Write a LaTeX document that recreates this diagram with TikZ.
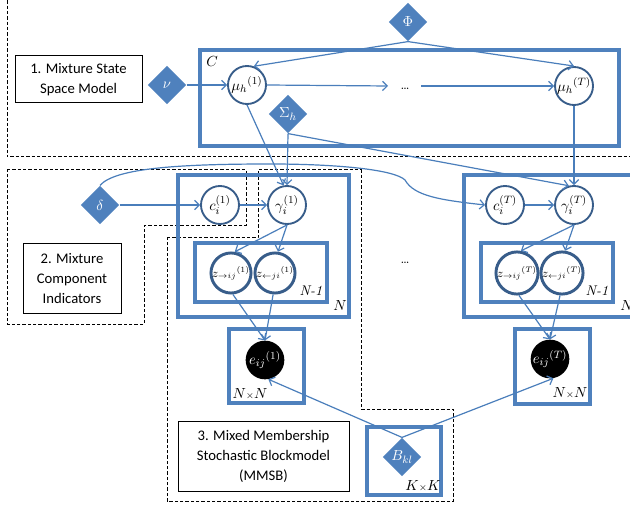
\documentclass[tikz,border=0pt]{standalone}
\usepackage{fontspec}
\newfontfamily\boxfont{Carlito}
\usetikzlibrary{shapes.geometric,arrows.meta}
\definecolor{plateblue}{HTML}{4F81BD}
\definecolor{arrblue}{HTML}{4A7EBB}
\definecolor{circblue}{HTML}{385D8A}
\begin{document}
\begin{tikzpicture}[x=0.75pt,y=-0.75pt,
  var/.style={circle,draw=circblue,line width=1.4pt,fill=white,minimum size=28.5pt,inner sep=0pt,font=\fontsize{11}{12}\selectfont},
  zvar/.style={var,line width=2.2pt,minimum size=26.5pt,font=\fontsize{9}{10}\selectfont},
  obs/.style={circle,fill=black,minimum size=29pt,inner sep=0pt,text=white,font=\fontsize{11}{12}\selectfont},
  param/.style={diamond,fill=plateblue,minimum size=29pt,aspect=1,inner sep=0pt,text=white,font=\fontsize{11}{12}\selectfont},
  plate/.style={draw=plateblue,line width=2.3pt},
  region/.style={draw=black,line width=0.75pt,dash pattern=on 2.5pt off 1.5pt},
  infobox/.style={draw=black,line width=0.75pt,fill=white,align=center,inner sep=0pt,font=\boxfont\fontsize{11}{15}\selectfont},
  arr/.style={draw=arrblue,line width=0.9pt,-{Straight Barb[length=3.5pt,width=7pt]}},
  lab/.style={inner sep=0pt,font=\fontsize{10.5}{11}\selectfont}
]
\useasboundingbox (0,0) rectangle (630,505);
% dashed regions
\draw[region] (7,-5) -- (7,157) -- (635,157);
\draw[region] (7,170) -- (246,170) -- (246,226) -- (144,226) -- (144,324) -- (7,324) -- cycle;
\draw[region] (167,238) -- (258,238) -- (258,170) -- (361,170) -- (361,409) -- (453,409) -- (453,501) -- (167,501) -- cycle;
% plates
\draw[plate] (200,50) rectangle (619,146);
\node[lab] (lC) at (212,62) {$C$};
\draw[plate] (178,175) rectangle (349,317);
\node[lab] (lN1) at (340,306) {$N$};
\draw[plate] (195,243) rectangle (327,302);
\node[lab] (lNm1) at (311,291) {\textit{N-1}};
\draw[plate] (464,175) rectangle (645,317);
\node[lab] (lNT) at (627,306) {$N$};
\draw[plate] (481,243) rectangle (613,302);
\node[lab] (lNmT) at (597,291) {\textit{N-1}};
\draw[plate] (229,329) rectangle (304,403);
\node[lab] (lNN1) at (250,394) {$N{\scriptstyle\times}N$};
\draw[plate] (515,329) rectangle (590,404);
\node[lab] (lNNT) at (570,393) {$N{\scriptstyle\times}N$};
\draw[plate] (367,427) rectangle (441,495);
\node[lab] (lKK) at (423,486) {$K{\scriptstyle\times}K$};
% text boxes
\node[infobox,minimum width=95.25pt,minimum height=35.25pt] (box1) at (78.5,79.5) {1. Mixture State\\Space Model};
\node[infobox,minimum width=73.5pt,minimum height=51.75pt] (box2) at (72,278.5) {2. Mixture\\Component\\Indicators};
\node[infobox,minimum width=128.25pt,minimum height=52.5pt] (box3) at (263.5,456) {3. Mixed Membership\\Stochastic Blockmodel\\(MMSB)};
% parameters
\node[param] (nu) at (167,85) {$\nu$};
\node[param] (Phi) at (408,22) {$\Phi$};
\node[param] (Sig) at (288,114) {$\Sigma_h$};
\node[param] (delta) at (100,205) {$\delta$};
\node[param] (B) at (402,457) {$B_{kl}$};
% variables
\node[var] (mu1) at (247,85) {${\mu_h}^{(1)}$};
\node[var] (muT) at (574,86) {${\mu_h}^{(T)}$};
\node[inner sep=0pt] (dots1) at (405,89) {\ldots};
\coordinate (d1a) at (388,86);
\coordinate (d1b) at (421,86);
\node[var] (c1) at (220,205) {$c_i^{(1)}$};
\node[var] (g1) at (287,205) {$\gamma_i^{(1)}$};
\node[var] (cT) at (505,205) {$c_i^{(T)}$};
\node[var] (gT) at (574,205) {$\gamma_i^{(T)}$};
\node[zvar] (z1a) at (231,273) {${z_{\rightarrow ij}}^{(1)}$};
\node[zvar] (z1b) at (275,273) {${z_{\leftarrow ji}}^{(1)}$};
\node[zvar] (zTa) at (517,273) {${z_{\rightarrow ij}}^{(T)}$};
\node[zvar] (zTb) at (562,273) {${z_{\leftarrow ji}}^{(T)}$};
\node[inner sep=0pt] (dots2) at (405,263) {\ldots};
\node[obs] (e1) at (265,360) {${e_{ij}}^{(1)}$};
\node[obs] (eT) at (550,359) {${e_{ij}}^{(T)}$};
% connectors
\draw[arr] (nu.east) -- (mu1.west);
\draw[arr] (mu1.east) -- (d1a);
\draw[arr] (d1b) -- (muT.west);
\draw[arr] (Phi.south) -- (mu1.70);
\draw[arr] (Phi.south) -- (muT.north);
\draw[arr] (mu1.south) -- (g1.100);
\draw[arr] (Sig.south) -- (g1.north);
\draw[arr] (Sig.south) -- (gT.105);
\draw[arr] (muT.south) -- (gT.north);
\draw[arr] (delta.east) -- (c1.west);
\draw[arr] (c1.east) -- (g1.west);
\draw[arr] (cT.east) -- (gT.west);
\draw[arr] (delta.north) .. controls (115,168) and (180,164) .. (270,164)
  .. controls (340,164) and (395,170) .. (405,180)
  .. controls (414,196) and (440,200) .. (cT.west);
\draw[arr] (g1.south) -- (z1a.80);
\draw[arr] (g1.south) -- (z1b.82);
\draw[arr] (gT.south) -- (zTa.80);
\draw[arr] (gT.south) -- (zTb.82);
\draw[arr] (z1a.-85) -- (e1.north);
\draw[arr] (z1b.-95) -- (e1.north);
\draw[arr] (zTa.-85) -- (eT.north);
\draw[arr] (zTb.-95) -- (eT.north);
\draw[arr] (B.north) -- (e1.-80);
\draw[arr] (B.north) -- (eT.-80);
\end{tikzpicture}
\end{document}
